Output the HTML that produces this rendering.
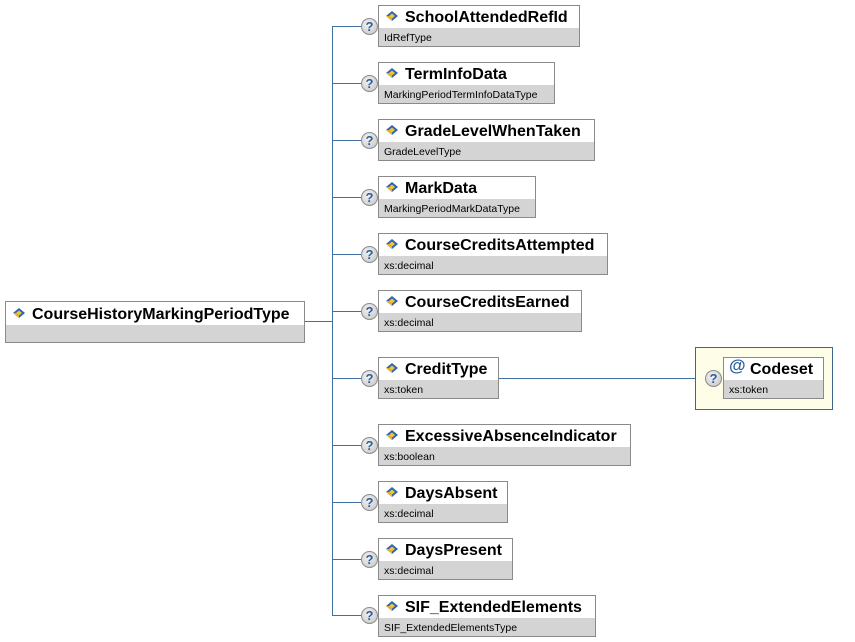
<!DOCTYPE html>
<html><head><meta charset="utf-8"><style>
html,body{margin:0;padding:0;background:#fff;width:855px;height:642px;overflow:hidden;position:relative;font-family:"Liberation Sans",Arial,sans-serif;}
.b{position:absolute;box-sizing:border-box;border:1px solid #8a8a8a;background:#fff;height:42px;}
.h{position:absolute;left:0;right:0;top:0;height:22px;background:#fff;}
.f{position:absolute;left:0;right:0;top:22px;bottom:0;background:#d4d4d4;}
.t{position:absolute;left:26px;top:3px;font-weight:bold;font-size:16px;color:#000;white-space:nowrap;}
.s{position:absolute;left:5px;top:3px;font-size:10.5px;color:#000;white-space:nowrap;}
.ic{position:absolute;left:7px;top:5px;}
.ln{position:absolute;background:#3f6fa3;}
.q{position:absolute;width:17px;height:17px;box-sizing:border-box;border:1px solid #8c8c8c;border-radius:50%;background:radial-gradient(circle at 40% 35%,#f2f2f2,#c4c4c4);color:#2d5f9c;font-weight:bold;font-size:13px;line-height:16px;text-align:center;}
</style></head><body>
<svg width="0" height="0" style="position:absolute"><defs>
<g id="icon"><polygon points="6,0 12,5 6,10 0,5" fill="#2c64b4"/><polygon points="6,2.5 9,5 6,7.5 3,5" fill="#f4c430"/><polygon points="0,5 3,5 6,7.5 6,10" fill="#f0b020"/></g>
</defs></svg>

<!-- connectors -->
<div class="ln" style="left:304px;top:321px;width:28px;height:1px"></div>
<div class="ln" style="left:332px;top:26px;width:1px;height:590px"></div>
<div class="ln" style="left:332px;top:26px;width:30px;height:1px"></div>
<div class="ln" style="left:332px;top:83px;width:30px;height:1px"></div>
<div class="ln" style="left:332px;top:140px;width:30px;height:1px"></div>
<div class="ln" style="left:332px;top:197px;width:30px;height:1px"></div>
<div class="ln" style="left:332px;top:254px;width:30px;height:1px"></div>
<div class="ln" style="left:332px;top:311px;width:30px;height:1px"></div>
<div class="ln" style="left:332px;top:378px;width:30px;height:1px"></div>
<div class="ln" style="left:332px;top:445px;width:30px;height:1px"></div>
<div class="ln" style="left:332px;top:502px;width:30px;height:1px"></div>
<div class="ln" style="left:332px;top:559px;width:30px;height:1px"></div>
<div class="ln" style="left:332px;top:615px;width:30px;height:1px"></div>
<div class="ln" style="left:498px;top:378px;width:197px;height:1px"></div>

<!-- root -->
<div class="b" style="left:5px;top:301px;width:300px;height:42px">
<div class="h" style="height:23px"></div><div class="f" style="top:23px"></div>
<svg class="ic" width="13" height="11" style="top:6px"><use href="#icon"/></svg>
<div class="t" style="top:4px">CourseHistoryMarkingPeriodType</div>
</div>

<!-- children -->
<div class="q" style="left:361px;top:18px">?</div>
<div class="b" style="left:378px;top:5px;width:202px"><div class="h"></div><div class="f"></div><svg class="ic" width="13" height="11"><use href="#icon"/></svg><div class="t">SchoolAttendedRefId</div><div class="s" style="top:26px">IdRefType</div></div>

<div class="q" style="left:361px;top:75px">?</div>
<div class="b" style="left:378px;top:62px;width:177px"><div class="h"></div><div class="f"></div><svg class="ic" width="13" height="11"><use href="#icon"/></svg><div class="t">TermInfoData</div><div class="s" style="top:26px">MarkingPeriodTermInfoDataType</div></div>

<div class="q" style="left:361px;top:132px">?</div>
<div class="b" style="left:378px;top:119px;width:217px"><div class="h"></div><div class="f"></div><svg class="ic" width="13" height="11"><use href="#icon"/></svg><div class="t">GradeLevelWhenTaken</div><div class="s" style="top:26px">GradeLevelType</div></div>

<div class="q" style="left:361px;top:189px">?</div>
<div class="b" style="left:378px;top:176px;width:158px"><div class="h"></div><div class="f"></div><svg class="ic" width="13" height="11"><use href="#icon"/></svg><div class="t">MarkData</div><div class="s" style="top:26px">MarkingPeriodMarkDataType</div></div>

<div class="q" style="left:361px;top:246px">?</div>
<div class="b" style="left:378px;top:233px;width:230px"><div class="h"></div><div class="f"></div><svg class="ic" width="13" height="11"><use href="#icon"/></svg><div class="t">CourseCreditsAttempted</div><div class="s" style="top:26px">xs:decimal</div></div>

<div class="q" style="left:361px;top:303px">?</div>
<div class="b" style="left:378px;top:290px;width:204px"><div class="h"></div><div class="f"></div><svg class="ic" width="13" height="11"><use href="#icon"/></svg><div class="t">CourseCreditsEarned</div><div class="s" style="top:26px">xs:decimal</div></div>

<div class="q" style="left:361px;top:370px">?</div>
<div class="b" style="left:378px;top:357px;width:121px"><div class="h"></div><div class="f"></div><svg class="ic" width="13" height="11"><use href="#icon"/></svg><div class="t">CreditType</div><div class="s" style="top:26px">xs:token</div></div>

<div class="q" style="left:361px;top:437px">?</div>
<div class="b" style="left:378px;top:424px;width:253px"><div class="h"></div><div class="f"></div><svg class="ic" width="13" height="11"><use href="#icon"/></svg><div class="t">ExcessiveAbsenceIndicator</div><div class="s" style="top:26px">xs:boolean</div></div>

<div class="q" style="left:361px;top:494px">?</div>
<div class="b" style="left:378px;top:481px;width:130px"><div class="h"></div><div class="f"></div><svg class="ic" width="13" height="11"><use href="#icon"/></svg><div class="t">DaysAbsent</div><div class="s" style="top:26px">xs:decimal</div></div>

<div class="q" style="left:361px;top:551px">?</div>
<div class="b" style="left:378px;top:538px;width:135px"><div class="h"></div><div class="f"></div><svg class="ic" width="13" height="11"><use href="#icon"/></svg><div class="t">DaysPresent</div><div class="s" style="top:26px">xs:decimal</div></div>

<div class="q" style="left:361px;top:607px">?</div>
<div class="b" style="left:378px;top:595px;width:218px"><div class="h"></div><div class="f"></div><svg class="ic" width="13" height="11"><use href="#icon"/></svg><div class="t">SIF_ExtendedElements</div><div class="s" style="top:26px">SIF_ExtendedElementsType</div></div>

<!-- attribute group -->
<div style="position:absolute;left:695px;top:347px;width:138px;height:63px;box-sizing:border-box;border:1px solid #3f6591;background:#fefee8"></div>
<div class="q" style="left:705px;top:370px">?</div>
<div class="b" style="left:723px;top:357px;width:101px"><div class="h"></div><div class="f"></div>
<div style="position:absolute;left:5px;top:-2px;font-weight:bold;font-size:17px;color:#2d5f9c">@</div>
<div class="t" style="left:26px">Codeset</div><div class="s" style="top:26px">xs:token</div></div>
</body></html>
